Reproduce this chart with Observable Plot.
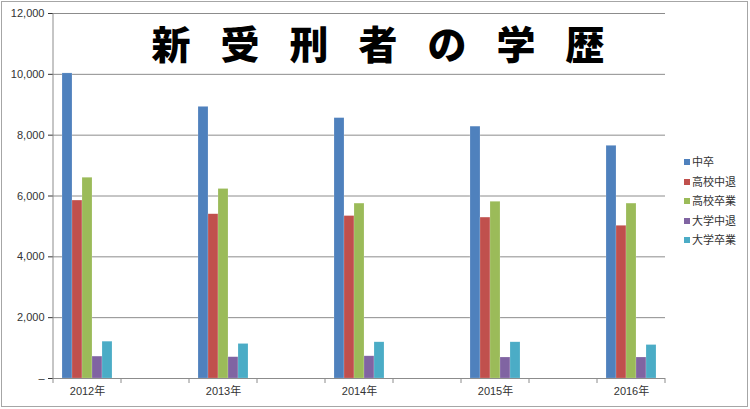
<!DOCTYPE html>
<html>
<head>
<meta charset="utf-8">
<script src="https://cdn.jsdelivr.net/npm/d3@7"></script>
<script src="https://cdn.jsdelivr.net/npm/@observablehq/plot@0.6"></script>
<style>
  html, body { margin: 0; padding: 0; background: #fff; }
  #wrap { position: relative; width: 750px; height: 409px; overflow: hidden; }
  #border { position: absolute; left: 1px; top: 1px; width: 745px; height: 404px; border: 1px solid #a6a6a6; pointer-events: none; }
  #chart { position: absolute; left: 0; top: 0; }
  #title { position: absolute; left: 0; width: 750px; top: 21px; text-align: center;
    font-family: "Noto Sans CJK JP", sans-serif; font-weight: 900; font-size: 39px; line-height: 43px;
    letter-spacing: 30px; padding-left: 36px; box-sizing: border-box; color: #000; }
  #legend { position: absolute; left: 684px; top: 153px; font-family: "Liberation Sans", "Noto Sans CJK JP", sans-serif;
    font-size: 11px; color: #333; }
  #legend .item { height: 19.6px; line-height: 19.6px; white-space: nowrap; }
  #legend .sw { display: inline-block; width: 6px; height: 6px; margin-right: 2px; vertical-align: middle; position: relative; top: -1px; }
</style>
</head>
<body>
<div id="wrap">
  <div id="chart"></div>
  <div id="title">新受刑者の学歴</div>
  <div id="legend"></div>
  <div id="border"></div>
</div>
<script>
// ---- data ----
const years = ["2012年", "2013年", "2014年", "2015年", "2016年"];
const series = ["中卒", "高校中退", "高校卒業", "大学中退", "大学卒業"];
const chusotsu         = [10030, 8930, 8560, 8280, 7650];
const koukouChutai     = [5850, 5400, 5340, 5290, 5020];
const koukouSotsugyou  = [6600, 6230, 5750, 5810, 5750];
const daigakuChutai    = [720, 700, 730, 690, 690];
const daigakuSotsugyou = [1210, 1135, 1190, 1190, 1100];
const yTicks = [0, 2000, 4000, 6000, 8000, 10000, 12000];
const colors = ["#4F81BD", "#C0504D", "#9BBB59", "#8064A2", "#4BACC6"];

const valuesBySeries = [chusotsu, koukouChutai, koukouSotsugyou, daigakuChutai, daigakuSotsugyou];

// category slots: each year followed by an empty slot (as in the original sheet)
const slots = [];
years.forEach((y, i) => {
  slots.push(y);
  if (i < years.length - 1) slots.push("gap" + i);
});

const rows = [];
years.forEach((y, i) => {
  series.forEach((s, j) => rows.push({year: y, series: s, value: valuesBySeries[j][i]}));
});
slots.filter(s => s.startsWith("gap")).forEach(g => rows.push({year: g, series: series[0], value: null}));

const W = 750, H = 409;
const plot = Plot.plot({
  width: W,
  height: H,
  marginLeft: 52,
  marginRight: 84,
  marginTop: 13,
  marginBottom: 31,
  style: {fontFamily: "'Liberation Sans', 'Noto Sans CJK JP', sans-serif", fontSize: "11px", color: "#333", background: "transparent"},
  facet: {data: rows, x: "year"},
  fx: {domain: slots, padding: 0, axis: "bottom", label: null, tickSize: 0, tickPadding: 9,
       tickFormat: d => d.startsWith("gap") ? "" : d},
  x: {domain: series, paddingInner: 0, paddingOuter: 0.78, axis: null},
  y: {domain: [0, 12000], ticks: yTicks, tickSize: 5, tickPadding: 4, label: null,
      tickFormat: d => d === 0 ? "–" : d3.format(",")(d)},
  color: {domain: series, range: colors},
  marks: [
    Plot.ruleY(yTicks.filter(d => d > 0), {stroke: "#8c8c8c", strokeWidth: 1}),
    Plot.barY(rows, {x: "series", y: "value", fill: "series", stroke: "#ffffff", strokeOpacity: 0.35, strokeWidth: 0.5}),
    Plot.ruleY([0], {stroke: "#8c8c8c", strokeWidth: 1})
  ]
});
document.getElementById("chart").appendChild(plot);

// axis line and category-boundary ticks drawn from the library's scales
const svg = d3.select(plot);
const fx = plot.scale("fx");
const ys = plot.scale("y");
const y0 = ys.apply(0), yTop = ys.apply(12000);
const bw = fx.bandwidth;
const edges = slots.map(s => fx.apply(s));
edges.push(fx.apply(slots[slots.length - 1]) + bw);
const g = svg.append("g").attr("stroke", "#8c8c8c").attr("stroke-width", 1);
g.append("line").attr("x1", edges[0]).attr("x2", edges[0]).attr("y1", yTop).attr("y2", y0 + 0.5);
edges.forEach(x => g.append("line").attr("x1", x).attr("x2", x).attr("y1", y0).attr("y2", y0 + 5));

// legend
const leg = document.getElementById("legend");
series.forEach((s, i) => {
  const d = document.createElement("div");
  d.className = "item";
  d.innerHTML = `<span class="sw" style="background:${colors[i]}"></span>${s}`;
  leg.appendChild(d);
});
</script>
</body>
</html>
